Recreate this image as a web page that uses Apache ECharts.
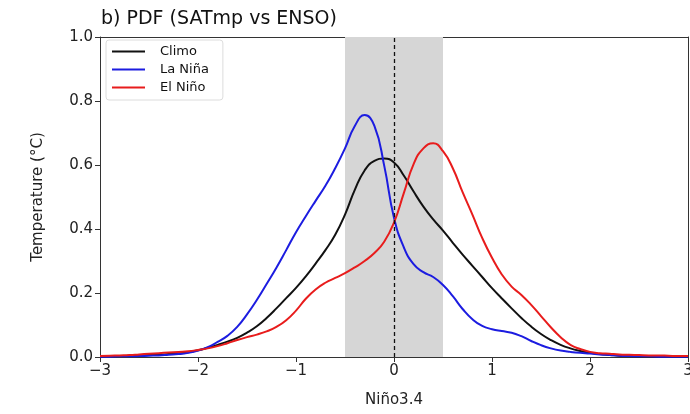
<!DOCTYPE html>
<html><head><meta charset="utf-8">
<script src="https://cdn.jsdelivr.net/npm/echarts@6/dist/echarts.min.js"></script>
<style>html,body{margin:0;padding:0;background:#fff}#c{width:690px;height:414px}</style>
</head><body><div id="c"></div>
<script>
const xs = [-3.0,-2.9,-2.8,-2.7,-2.6,-2.5,-2.4,-2.3,-2.2,-2.1,-2.0,-1.9,-1.8,-1.7,-1.6,-1.5,-1.4,-1.3,-1.2,-1.1,-1.0,-0.9,-0.8,-0.7,-0.6,-0.5,-0.4,-0.3,-0.2,-0.1,0.0,0.1,0.2,0.3,0.4,0.5,0.6,0.7,0.8,0.9,1.0,1.1,1.2,1.3,1.4,1.5,1.6,1.7,1.8,1.9,2.0,2.1,2.2,2.3,2.4,2.5,2.6,2.7,2.8,2.9,3.0];
const climo = [0.001,0.002,0.003,0.004,0.005,0.006,0.007,0.009,0.011,0.015,0.021,0.029,0.038,0.048,0.060,0.076,0.096,0.122,0.152,0.184,0.216,0.252,0.292,0.334,0.382,0.445,0.522,0.583,0.613,0.620,0.608,0.567,0.517,0.470,0.430,0.395,0.357,0.320,0.285,0.250,0.215,0.183,0.152,0.122,0.095,0.072,0.053,0.038,0.027,0.019,0.013,0.009,0.006,0.004,0.003,0.002,0.002,0.001,0.001,0.001,0.001];
const laNina = [0.001,0.001,0.002,0.002,0.003,0.004,0.005,0.007,0.009,0.013,0.020,0.031,0.047,0.066,0.094,0.133,0.178,0.228,0.279,0.334,0.390,0.440,0.488,0.535,0.590,0.652,0.722,0.756,0.722,0.598,0.435,0.343,0.290,0.265,0.250,0.225,0.190,0.150,0.118,0.097,0.087,0.081,0.076,0.065,0.050,0.037,0.027,0.020,0.016,0.013,0.011,0.008,0.006,0.004,0.003,0.002,0.002,0.001,0.001,0.001,0.001];
const elNino = [0.003,0.004,0.005,0.006,0.008,0.010,0.012,0.014,0.016,0.018,0.022,0.027,0.034,0.043,0.053,0.062,0.070,0.080,0.094,0.115,0.145,0.182,0.211,0.232,0.247,0.262,0.280,0.300,0.325,0.360,0.420,0.512,0.603,0.652,0.668,0.643,0.590,0.515,0.445,0.372,0.310,0.258,0.220,0.194,0.163,0.128,0.093,0.062,0.038,0.025,0.016,0.012,0.010,0.008,0.007,0.006,0.005,0.005,0.004,0.003,0.003];
const seriesNames = ['Climo','La Niña','El Niño'];
const seriesColors = ['#111111','#1c1ce0','#e81c1c'];
const yTicks = [0,0.2,0.4,0.6,0.8,1.0];
const xTicks = [-3,-2,-1,0,1,2,3];
const shadeRange = [-0.5,0.5];

const FONT = 'DejaVu Sans';
const pair = arr => xs.map((x,i)=>[x,arr[i]]);
const chart = echarts.init(document.getElementById('c'), null, {renderer:'canvas'});
const lineSeries = [climo, laNina, elNino].map((arr,i)=>({
  name: seriesNames[i], type:'line', data: pair(arr), smooth: 0.5,
  symbol:'none', z: 3, lineStyle:{color: seriesColors[i], width: 2}, itemStyle:{color: seriesColors[i]}
}));
chart.setOption({
  animation:false,
  title:{text:'b) PDF (SATmp vs ENSO)', left:96, top:5, textStyle:{fontFamily:FONT, fontSize:19, fontWeight:'normal', color:'#111'}},
  grid:{left:100, right:2, top:37, bottom:57, outerBoundsMode:'none', containLabel:false},
  legend:{data:seriesNames, orient:'vertical', left:106, top:40, icon:'rect', itemWidth:33, itemHeight:2, itemGap:5,
    padding:[5,14,6,6], borderColor:'#dcdcdc', borderWidth:1, borderRadius:3, backgroundColor:'rgba(255,255,255,0.85)',
    textStyle:{fontFamily:FONT, fontSize:13, color:'#111', padding:[0,0,0,10]}},
  xAxis:[{type:'value', min:xTicks[0], max:xTicks[xTicks.length-1], interval:1,
    name:'Niño3.4', nameLocation:'middle', nameGap:36, nameTextStyle:{fontFamily:FONT, fontSize:15, color:'#222'},
    axisLine:{onZero:false, lineStyle:{color:'#333', width:1}}, axisTick:{show:true, length:5, lineStyle:{color:'#333'}},
    axisLabel:{fontFamily:FONT, fontSize:15, color:'#222', margin:7, formatter:v=>String(v).replace('-','\u2212')},
    splitLine:{show:false}},
   {type:'value', position:'top', min:-3, max:3, axisLine:{show:true, onZero:false, lineStyle:{color:'#333'}}, axisTick:{show:false}, axisLabel:{show:false}, splitLine:{show:false}}],
  yAxis:[{type:'value', min:yTicks[0], max:yTicks[yTicks.length-1], interval:0.2,
    name:'Temperature (°C)', nameLocation:'middle', nameGap:54, nameTextStyle:{fontFamily:FONT, fontSize:15, color:'#222'},
    axisLine:{show:true, onZero:false, lineStyle:{color:'#333', width:1}}, axisTick:{show:true, length:5, lineStyle:{color:'#333'}},
    axisLabel:{fontFamily:FONT, fontSize:15, color:'#222', margin:7, formatter:v=>v.toFixed(1)},
    splitLine:{show:false}},
   {type:'value', position:'right', min:0, max:1, axisLine:{show:true, onZero:false, lineStyle:{color:'#333'}}, axisTick:{show:false}, axisLabel:{show:false}, splitLine:{show:false}}],
  series:[{type:'line', name:'_shade', data:[], z:1, silent:true,
      markArea:{silent:true, itemStyle:{color:'#d6d6d6'}, data:[[{xAxis:shadeRange[0]},{xAxis:shadeRange[1]}]]},
      markLine:{silent:true, symbol:'none', label:{show:false}, lineStyle:{color:'#111', type:[4,3], width:1.3}, data:[{xAxis:0}]}
    }].concat(lineSeries)
});
</script></body></html>
